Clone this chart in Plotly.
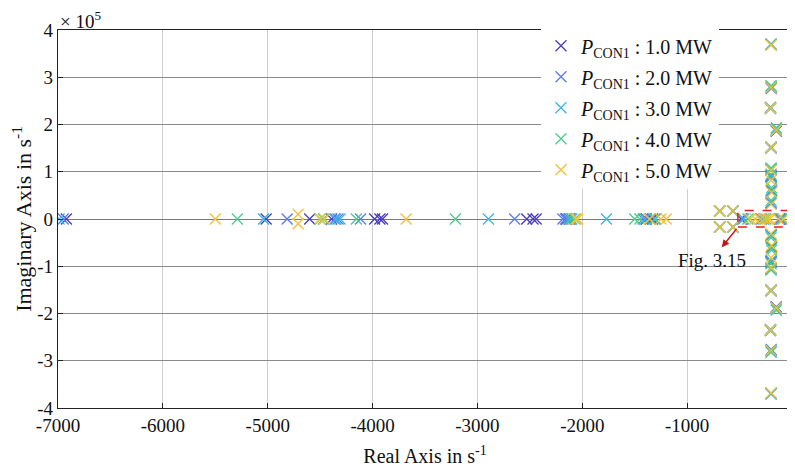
import plotly.graph_objects as go

# ---------------- data (s^-1) ----------------
labels = ["1.0 MW", "2.0 MW", "3.0 MW", "4.0 MW", "5.0 MW"]
colors = ["#4a3cc0", "#5b7cf2", "#3bb6e4", "#4ccb8c", "#f0c232"]

# real-axis poles per series
real_1 = [-6920, -5015, -4600, -4390, -3980, -3930, -3905, -2530, -2470, -2440, -2150, -2120, -1390, -1330, -485, -300, -120]
real_2 = [-6950, -4815, -4360, -4330, -4115, -2645, -2185, -2160, -1420, -1350, -475, -290, -110]
real_3 = [-6990, -5040, -4350, -4310, -2895, -2135, -2100, -1770, -1400, -1300, -460, -270, -100]
real_4 = [-5290, -4500, -4470, -4155, -3210, -2110, -2070, -1500, -1450, -1310, -420, -250, -90]
real_5 = [-5500, -4500, -4460, -3680, -2060, -2045, -1360, -1250, -1200, -400, -350, -300, -260, -230, -210, -130, -80]

# complex-conjugate pole pairs: real part, |imag part|
cplx_re_1 = [-690, -565, -200, -200, -205, -150, -200, -200, -195, -200, -200]
cplx_im_1 = [17000, 17000, 370000, 278000, 236000, 186000, 152000, 104000, 60000, 34000, 90000]
cplx_re_2 = [-690, -565, -200, -198, -205, -152, -200, -200, -195, -200, -200]
cplx_im_2 = [17000, 17000, 369000, 276000, 234000, 187000, 150000, 105000, 58000, 35000, 92000]
cplx_re_3 = [-690, -565, -200, -198, -205, -150, -200, -200, -195, -200, -200]
cplx_im_3 = [17000, 17000, 370000, 280000, 235000, 190000, 151000, 106000, 62000, 36000, 88000]
cplx_re_4 = [-690, -565, -200, -200, -205, -150, -200, -200, -195, -200, -200]
cplx_im_4 = [17000, 17000, 369000, 282000, 236000, 193000, 152000, 108000, 66000, 40000, 95000]
cplx_re_5 = [-690, -565, -4710, -200, -200, -205, -150, -200, -200, -195, -200, -200]
cplx_im_5 = [17000, 17000, 10000, 368000, 278000, 235000, 188000, 151000, 103000, 56000, 31000, 82000]

reals = [real_1, real_2, real_3, real_4, real_5]
cplx_re = [cplx_re_1, cplx_re_2, cplx_re_3, cplx_re_4, cplx_re_5]
cplx_im = [cplx_im_1, cplx_im_2, cplx_im_3, cplx_im_4, cplx_im_5]

x_ticks = [-7000, -6000, -5000, -4000, -3000, -2000, -1000, 0]
y_ticks = [-400000, -300000, -200000, -100000, 0, 100000, 200000, 300000, 400000]
y_ticktext = ["-4", "-3", "-2", "-1", "0", "1", "2", "3", "4"]

FONT = "Liberation Serif"

fig = go.Figure()
for i, (lab, col, re_, cre, cim) in enumerate(zip(labels, colors, reals, cplx_re, cplx_im)):
    xs = list(re_) + list(cre) + list(cre)
    ys = [0] * len(re_) + list(cim) + [-v for v in cim]
    fig.add_trace(go.Scatter(
        x=xs, y=ys, mode="markers",
        name="<i>P</i><sub>CON1</sub> : " + lab,
        legendgroup="g%d" % i,
        marker=dict(symbol="x-thin", size=11, line=dict(color=col, width=1.3), color=col),
    ))

axis_common = dict(
    showline=True, linecolor="#222222", linewidth=1.2, mirror=True,
    ticks="inside", ticklen=5, tickcolor="#222222", automargin=False,
    tickfont=dict(family=FONT, size=19, color="#111111"),
)

fig.update_xaxes(
    range=[-7000, 0], tickvals=x_ticks, ticktext=[str(v) for v in x_ticks],
    showgrid=True, gridcolor="#cfcfcf", gridwidth=1, zeroline=False,
    title=dict(text="Real Axis in s<sup>-1</sup>", font=dict(family=FONT, size=20, color="#111111"), standoff=14),
    **axis_common,
)
fig.update_yaxes(
    range=[-400000, 400000], tickvals=y_ticks, ticktext=y_ticktext,
    showgrid=True, gridcolor="#8a8a8a", gridwidth=1,
    zeroline=True, zerolinecolor="#7a7a7a", zerolinewidth=1.3,
    title=dict(text="Imaginary Axis in s<sup>-1</sup>", font=dict(family=FONT, size=22, color="#111111"), standoff=2),
    **axis_common,
)

# red dashed zoom box + arrow + label
fig.add_shape(type="rect", x0=-516, x1=-5, y0=-17000, y1=18000,
              line=dict(color="#e02020", width=1.5, dash="dash"))
fig.add_annotation(x=-670, y=-60000, ax=16, ay=-20, axref="pixel", ayref="pixel",
                   text="", showarrow=True, arrowhead=2, arrowsize=1, arrowwidth=1.5,
                   arrowcolor="#cc1010")
fig.add_annotation(x=-760, y=-87000, text="Fig. 3.15", showarrow=False,
                   font=dict(family=FONT, size=19, color="#111111"))
fig.add_annotation(xref="paper", yref="paper", x=0.0, y=1.0, xanchor="left", yanchor="bottom",
                   text="× 10<sup>5</sup>", showarrow=False, yshift=-4,
                   font=dict(family=FONT, size=19, color="#111111"))

# page body adds an 8 px offset, so the figure is sized to fit the 795x473 window
fig.update_layout(
    width=787, height=465,
    margin=dict(l=50, r=3, t=22, b=65),
    paper_bgcolor="white", plot_bgcolor="white",
    font=dict(family=FONT, size=19, color="#111111"),
    showlegend=True,
    legend=dict(x=0.658, y=1.01, xanchor="left", yanchor="top",
                bgcolor="white", borderwidth=0,
                font=dict(family=FONT, size=20, color="#111111"),
                itemwidth=30, tracegroupgap=2),
)

fig.write_html("out.html")
